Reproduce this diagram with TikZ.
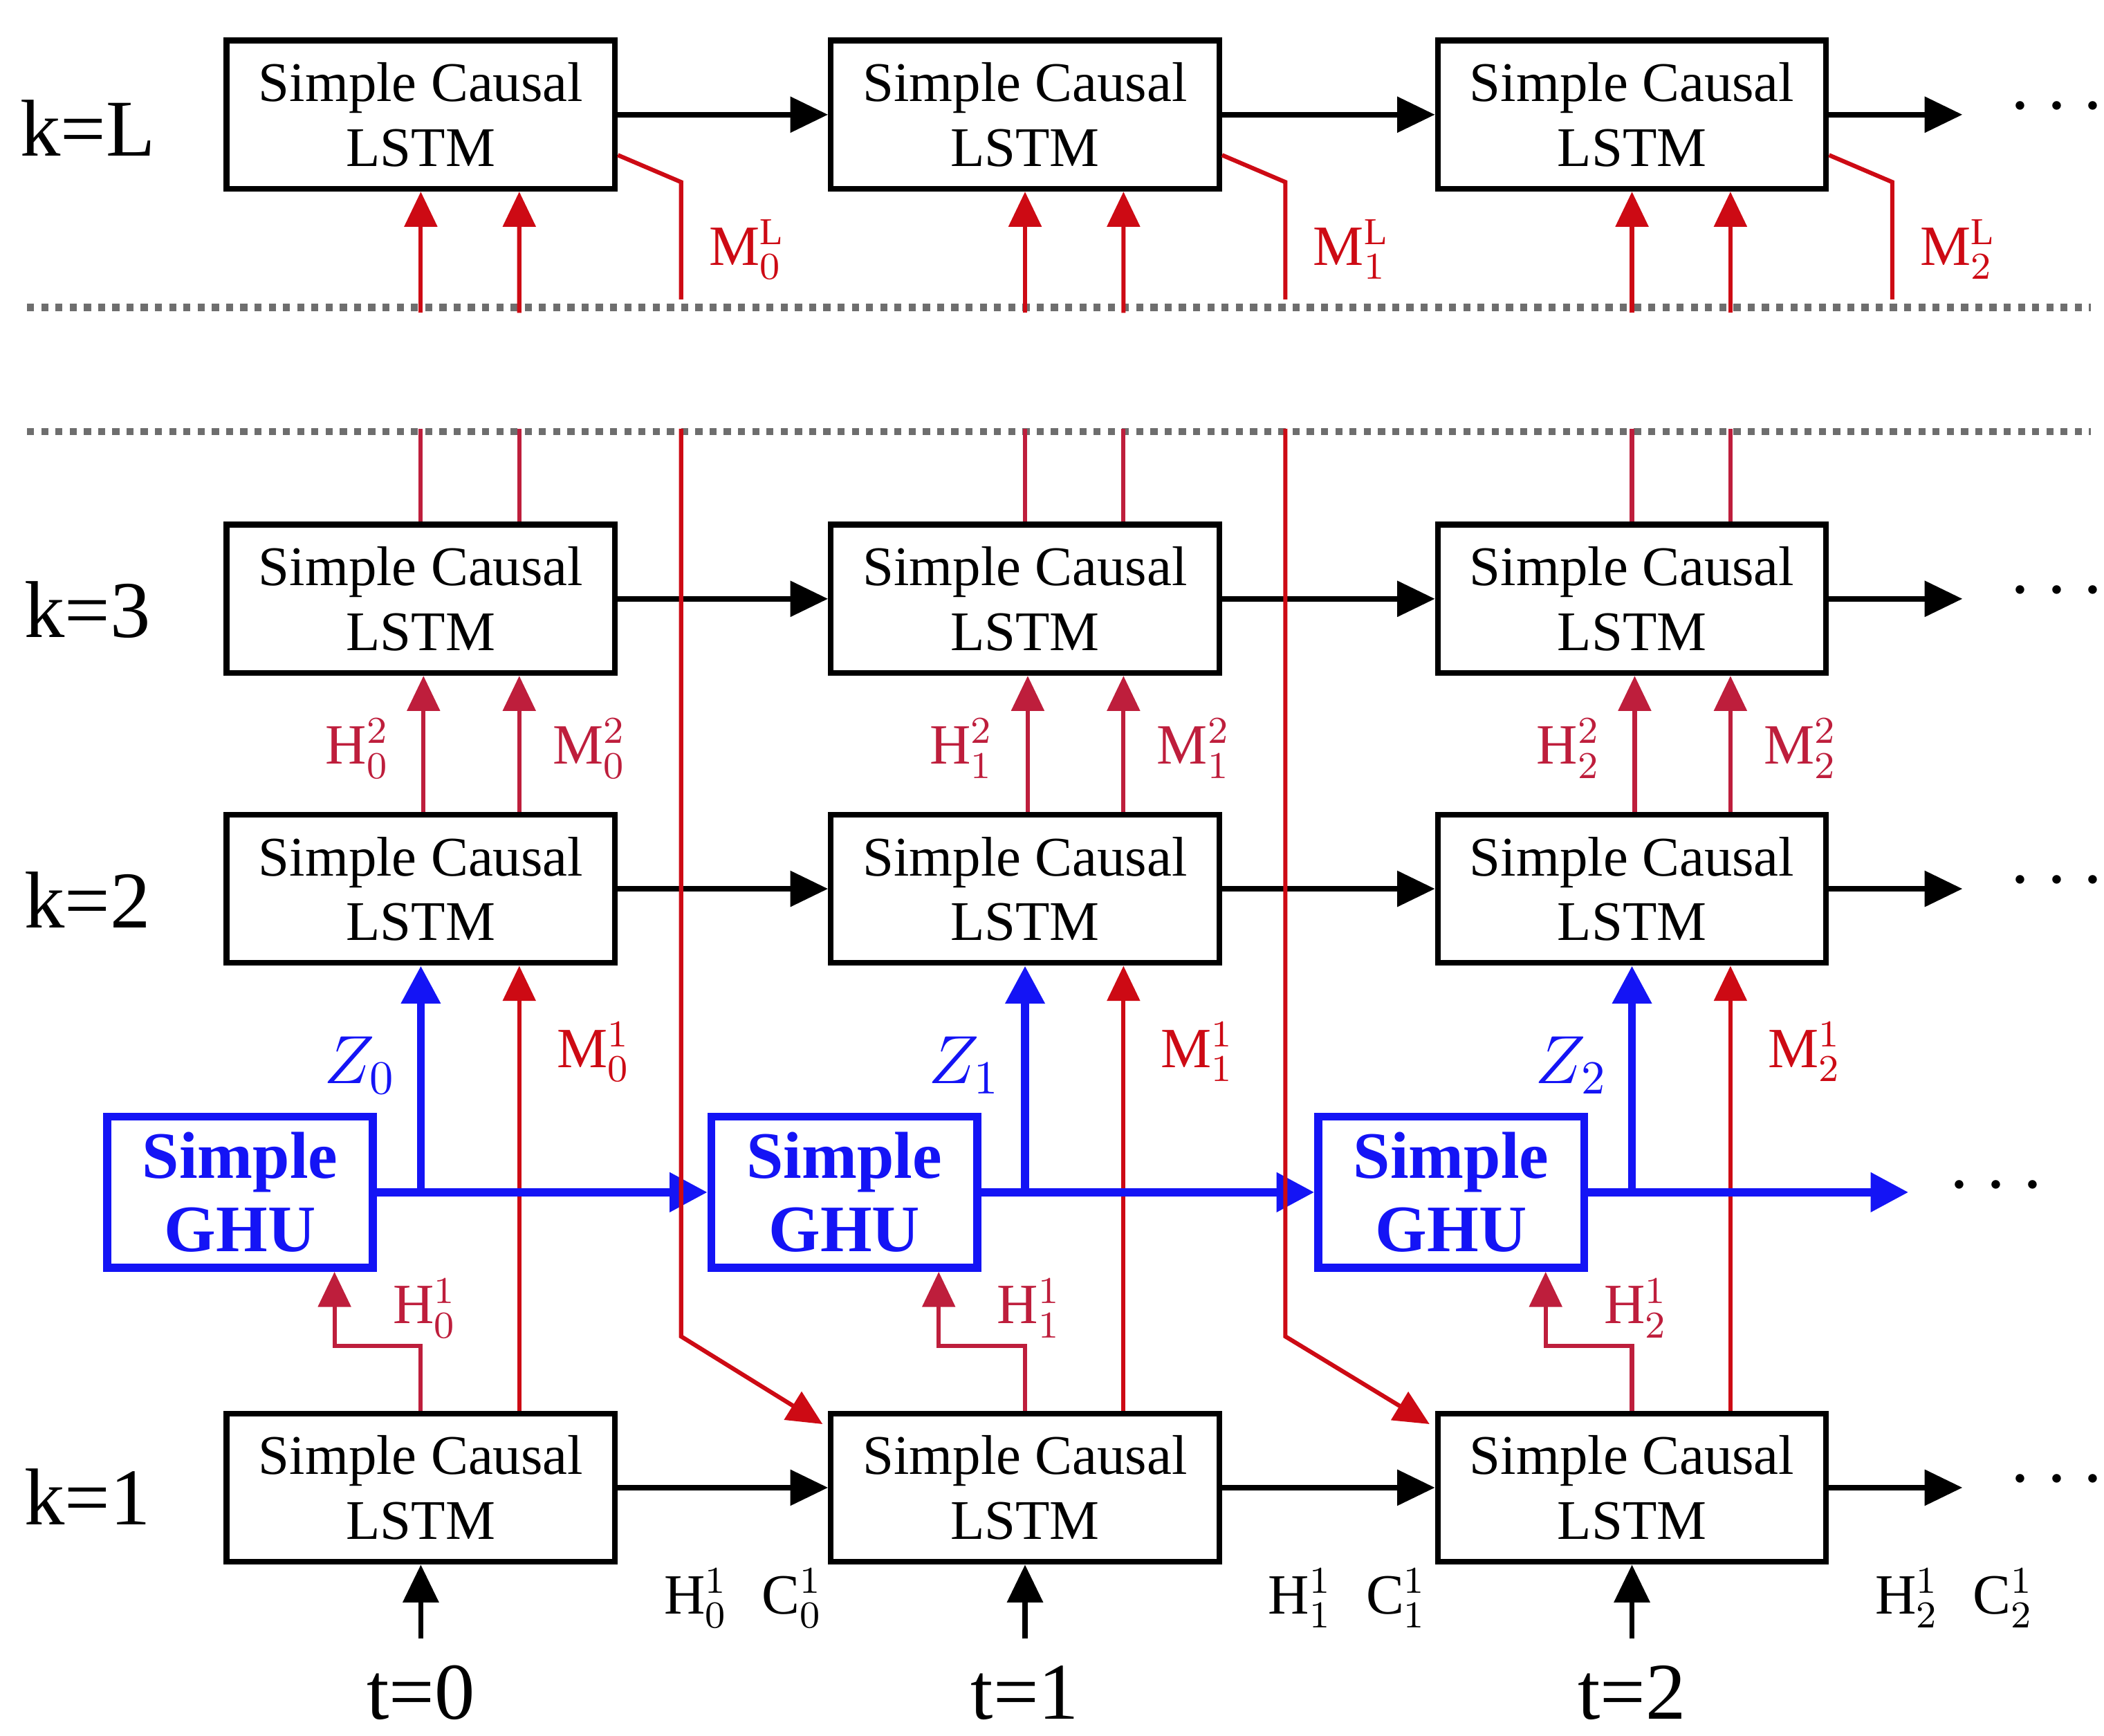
\documentclass[tikz,border=0pt]{standalone}
\usepackage{fontspec}
\setmainfont{Liberation Serif}
\usetikzlibrary{positioning,calc,arrows.meta}
\definecolor{hred}{RGB}{190,30,60}
\definecolor{mred}{RGB}{205,10,20}
\definecolor{ghublue}{RGB}{20,20,245}
\definecolor{sep}{RGB}{110,110,110}
\tikzset{
  lstm/.style={draw, line width=1.2pt, minimum width=2.88cm, minimum height=1.1cm, align=center,
    font=\fontsize{11.8}{13.6}\selectfont, inner sep=0pt},
  ghu/.style={draw=ghublue, text=ghublue, line width=1.7pt, minimum width=1.97cm, minimum height=1.12cm,
    align=center, font=\fontsize{14}{15.5}\selectfont\bfseries, inner sep=0pt},
  flow/.style={line width=1.1pt, -{Triangle[length=2.8mm,width=2.6mm]}},
  zflow/.style={ghublue, line width=1.7pt, -{Triangle[length=2.8mm,width=2.8mm]}},
  hflow/.style={hred, line width=0.9pt, -{Triangle[length=2.6mm,width=2.4mm]}},
  mflow/.style={mred, line width=0.9pt, -{Triangle[length=2.6mm,width=2.4mm]}},
  sepline/.style={sep, line width=1.5pt, dash pattern=on 1.5pt off 1.5pt},
  rlab/.style={text=hred, font=\fontsize{12}{13}\selectfont, inner sep=1pt},
  klab/.style={font=\fontsize{17}{19}\selectfont},
}
\begin{document}
\begin{tikzpicture}
\useasboundingbox (0,0) rectangle (15.6,-12.87);

% separators
\draw[sepline] (0.2,-2.28) -- (15.5,-2.28);
\draw[sepline] (0.2,-3.2) -- (15.5,-3.2);

% level labels
\node[klab] (kL) at (0.65,-0.95) {k=L};
\node[klab] (k3) at (0.65,-4.52) {k=3};
\node[klab] (k2) at (0.65,-6.67) {k=2};
\node[klab] (k1) at (0.65,-11.1) {k=1};

% cells
\foreach \c/\x in {0/3.12,1/7.60,2/12.10}{
  \node[lstm] (lL\c) at (\x,-0.85) {Simple Causal\\LSTM};
  \node[lstm] (l3\c) at (\x,-4.44) {Simple Causal\\LSTM};
  \node[lstm] (l2\c) at (\x,-6.59) {Simple Causal\\LSTM};
  \node[lstm] (l1\c) at (\x,-11.03) {Simple Causal\\LSTM};
  \node[ghu] (g\c) at (\x-1.34,-8.84) {Simple\\GHU};
  \node[klab] (t\c) at (\x,-12.55) {t=\c};
  % input
  \coordinate (in\c) at (\x,-12.15);
  \draw[flow] (in\c) -- (l1\c.south);
  \node[font=\fontsize{12}{13}\selectfont] (hc\c) at (\x+2.39,-11.85) {$\mathrm{H}^{1}_{\c}$\hspace{0.6em}$\mathrm{C}^{1}_{\c}$};
  % k=1 to GHU and k=2
  \draw[hflow] (l1\c.north) |- ($(g\c.south)+(0.7,-0.55)$) -- ($(g\c.south)+(0.7,0)$);
  \node[rlab] (h1\c) at (\x+0.03,-9.7) {$\mathrm{H}^{1}_{\c}$};
  \draw[mflow] ($(l1\c.north)+(0.73,0)$) -- ($(l2\c.south)+(0.73,0)$);
  \node[rlab, text=mred] (m1\c) at (\x+1.28,-7.8) {$\mathrm{M}^{1}_{\c}$};
  \draw[zflow] (g\c.east -| l2\c.south) -- (l2\c.south);
  \node[text=ghublue, font=\fontsize{14}{15}\selectfont] (z\c) at (\x-0.45,-7.9) {$Z_{\c}$};
  % k=2 to k=3
  \draw[hflow] ($(l2\c.north)+(0.02,0)$) -- ($(l3\c.south)+(0.02,0)$);
  \draw[hflow] ($(l2\c.north)+(0.73,0)$) -- ($(l3\c.south)+(0.73,0)$);
  \node[rlab] (h2\c) at (\x-0.47,-5.55) {$\mathrm{H}^{2}_{\c}$};
  \node[rlab] (m2\c) at (\x+1.25,-5.55) {$\mathrm{M}^{2}_{\c}$};
  % k=3 upwards
  \draw[hred, line width=0.9pt] (l3\c.north) -- ++(0,0.69);
  \draw[hred, line width=0.9pt] ($(l3\c.north)+(0.73,0)$) -- ++(0,0.69);
  % top level
  \draw[mflow] (\x,-2.32) -- (lL\c.south);
  \draw[mflow] (\x+0.73,-2.32) -- ($(lL\c.south)+(0.73,0)$);
  \draw[mred, line width=0.9pt] (\x+1.93,-2.22) -- (\x+1.93,-1.35) -- ($(lL\c.east)+(0,-0.3)$);
  \node[rlab, text=mred] (mL\c) at (\x+2.42,-1.85) {$\mathrm{M}^{\mathrm{L}}_{\c}$};
}

% time connections
\foreach \c/\n in {0/1,1/2}{
  \draw[flow] (lL\c.east) -- (lL\n.west);
  \draw[flow] (l3\c.east) -- (l3\n.west);
  \draw[flow] (l2\c.east) -- (l2\n.west);
  \draw[flow] (l1\c.east) -- (l1\n.west);
  \draw[zflow] (g\c.east) -- (g\n.west);
  \draw[mflow] ($(l3\c.north)+(1.93,0.69)$) -- ($(l1\c.north)+(1.93,0.55)$) -- ($(l1\n.north west)+(-0.04,-0.1)$);
}

% open ends
\foreach \r/\y in {L/-0.85,3/-4.44,2/-6.59,1/-11.03}{
  \coordinate (e\r) at (14.55,\y);
  \draw[flow] (l\r2.east) -- (e\r);
  \node[font=\fontsize{16}{16}\selectfont] (d\r) at (15.25,\y+0.05) {$\cdots$};
}
\coordinate (eg) at (14.15,-8.84);
\draw[zflow] (g2.east) -- (eg);
\node[font=\fontsize{16}{16}\selectfont] (dg) at (14.8,-8.8) {$\cdots$};
\end{tikzpicture}
\end{document}
